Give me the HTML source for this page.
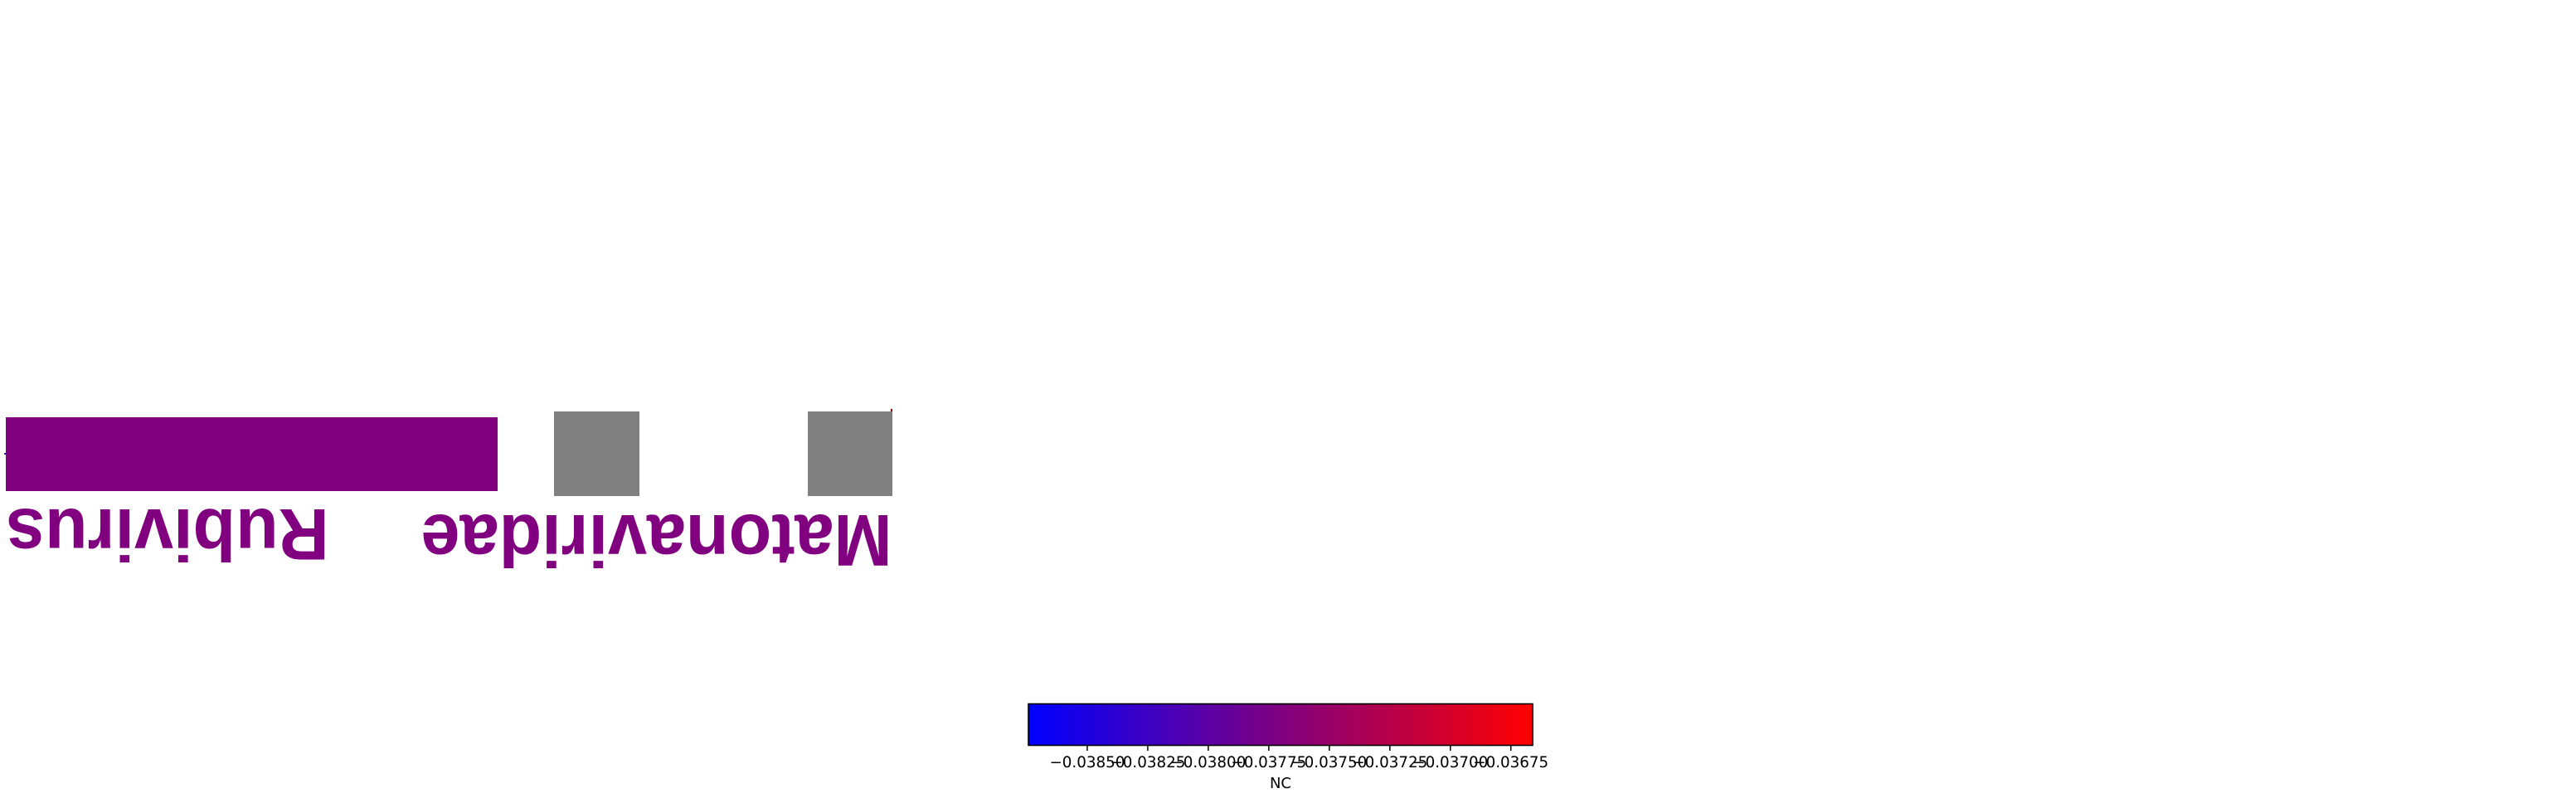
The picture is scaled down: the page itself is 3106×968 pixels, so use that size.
<!DOCTYPE html>
<html lang="en">
<head>
<meta charset="utf-8">
<title>Gene map with colorbar</title>
<style>
html,body{margin:0;padding:0;background:#fff;width:3106px;height:968px;overflow:hidden}
svg{display:block}
</style>
</head>
<body>
<svg id="chart" xmlns="http://www.w3.org/2000/svg" width="3106" height="968" viewBox="0 0 3106 968">
  <defs>
    <linearGradient id="bwr" x1="0" x2="1" y1="0" y2="0">
      <stop offset="0" stop-color="#0000ff"/>
      <stop offset="0.5" stop-color="#800080"/>
      <stop offset="1" stop-color="#ff0000"/>
    </linearGradient>
  </defs>
  <rect width="3106" height="968" fill="#ffffff"/>
  <g id="marks"></g>
  <g id="labels"></g>
  <g id="colorbar">
    <rect x="1240" y="848.5" width="608" height="50" fill="url(#bwr)" stroke="#000" stroke-width="1.6"/>
    <text x="1544" y="950" font-family="'DejaVu Sans',sans-serif" font-size="18" text-anchor="middle" fill="#000">NC</text>
  </g>
</svg>
<script>
// Track features, in genome position units
const featureNames = ['rubivirus-box', 'matonaviridae-box-1', 'matonaviridae-box-2'];
const featureStarts = [0, 661, 967];
const featureEnds = [593, 764, 1069];
const featureColors = ['#800080', '#808080', '#808080'];

// Text labels along the track
const labelTexts = ['Rubivirus', 'Matonaviridae'];
const labelEnds = [389.7, 1068.7];

// Colorbar
const colorbarTicks = [-0.0385, -0.03825, -0.038, -0.03775, -0.0375, -0.03725, -0.037, -0.03675];
const colorbarMin = -0.038743;
const colorbarMax = -0.03666;

const SVGNS = 'http://www.w3.org/2000/svg';
const xTrack = function (v) { return 7 + v; };
const xColor = function (v) { return 1240 + (v - colorbarMin) / (colorbarMax - colorbarMin) * 608; };
const marks = document.getElementById('marks');
const labels = document.getElementById('labels');
const colorbar = document.getElementById('colorbar');

featureNames.forEach(function (name, i) {
  const r = document.createElementNS(SVGNS, 'rect');
  
  
  const isPurple = i === 0;
  r.setAttribute('x', xTrack(featureStarts[i]));
  r.setAttribute('width', xTrack(featureEnds[i]) - xTrack(featureStarts[i]));
  r.setAttribute('y', isPurple ? 503 : 496);
  r.setAttribute('height', isPurple ? 89 : 102);
  r.setAttribute('fill', featureColors[i]);
  marks.appendChild(r);
});

const blueTick = document.createElementNS(SVGNS, 'rect');


blueTick.setAttribute('x', xTrack(featureStarts[0]) - 2);
blueTick.setAttribute('y', 546);
blueTick.setAttribute('width', 2);
blueTick.setAttribute('height', 2);
blueTick.setAttribute('fill', '#2020c0');
marks.appendChild(blueTick);

const redTick = document.createElementNS(SVGNS, 'rect');


redTick.setAttribute('x', xTrack(featureEnds[2]) - 2);
redTick.setAttribute('y', 493);
redTick.setAttribute('width', 2);
redTick.setAttribute('height', 3);
redTick.setAttribute('fill', '#8b0000');
marks.appendChild(redTick);

labelTexts.forEach(function (label, i) {
  const t = document.createElementNS(SVGNS, 'text');
  
  
  const baseline = i === 0 ? 614 : 621;
  t.setAttribute('transform', 'translate(' + xTrack(labelEnds[i]) + ' ' + baseline + ') rotate(180) scale(1 1.04)');
  t.setAttribute('font-family', "'Liberation Sans',sans-serif");
  t.setAttribute('font-weight', '700');
  t.setAttribute('font-size', '84.5');
  t.setAttribute('fill', '#800080');
  t.textContent = label;
  labels.appendChild(t);
});

colorbarTicks.forEach(function (v) {
  const x = xColor(v);
  const l = document.createElementNS(SVGNS, 'line');
  
  
  l.setAttribute('x1', x);
  l.setAttribute('x2', x);
  l.setAttribute('y1', 898);
  l.setAttribute('y2', 905);
  l.setAttribute('stroke', '#000');
  l.setAttribute('stroke-width', '1.5');
  colorbar.appendChild(l);
  const t = document.createElementNS(SVGNS, 'text');
  
  
  t.setAttribute('x', x);
  t.setAttribute('y', 925);
  t.setAttribute('font-family', "'DejaVu Sans',sans-serif");
  t.setAttribute('font-size', '18.3');
  t.setAttribute('text-anchor', 'middle');
  t.setAttribute('fill', '#000');
  t.textContent = '\u2212' + Math.abs(v).toFixed(5);
  colorbar.appendChild(t);
});
</script>
</body>
</html>
